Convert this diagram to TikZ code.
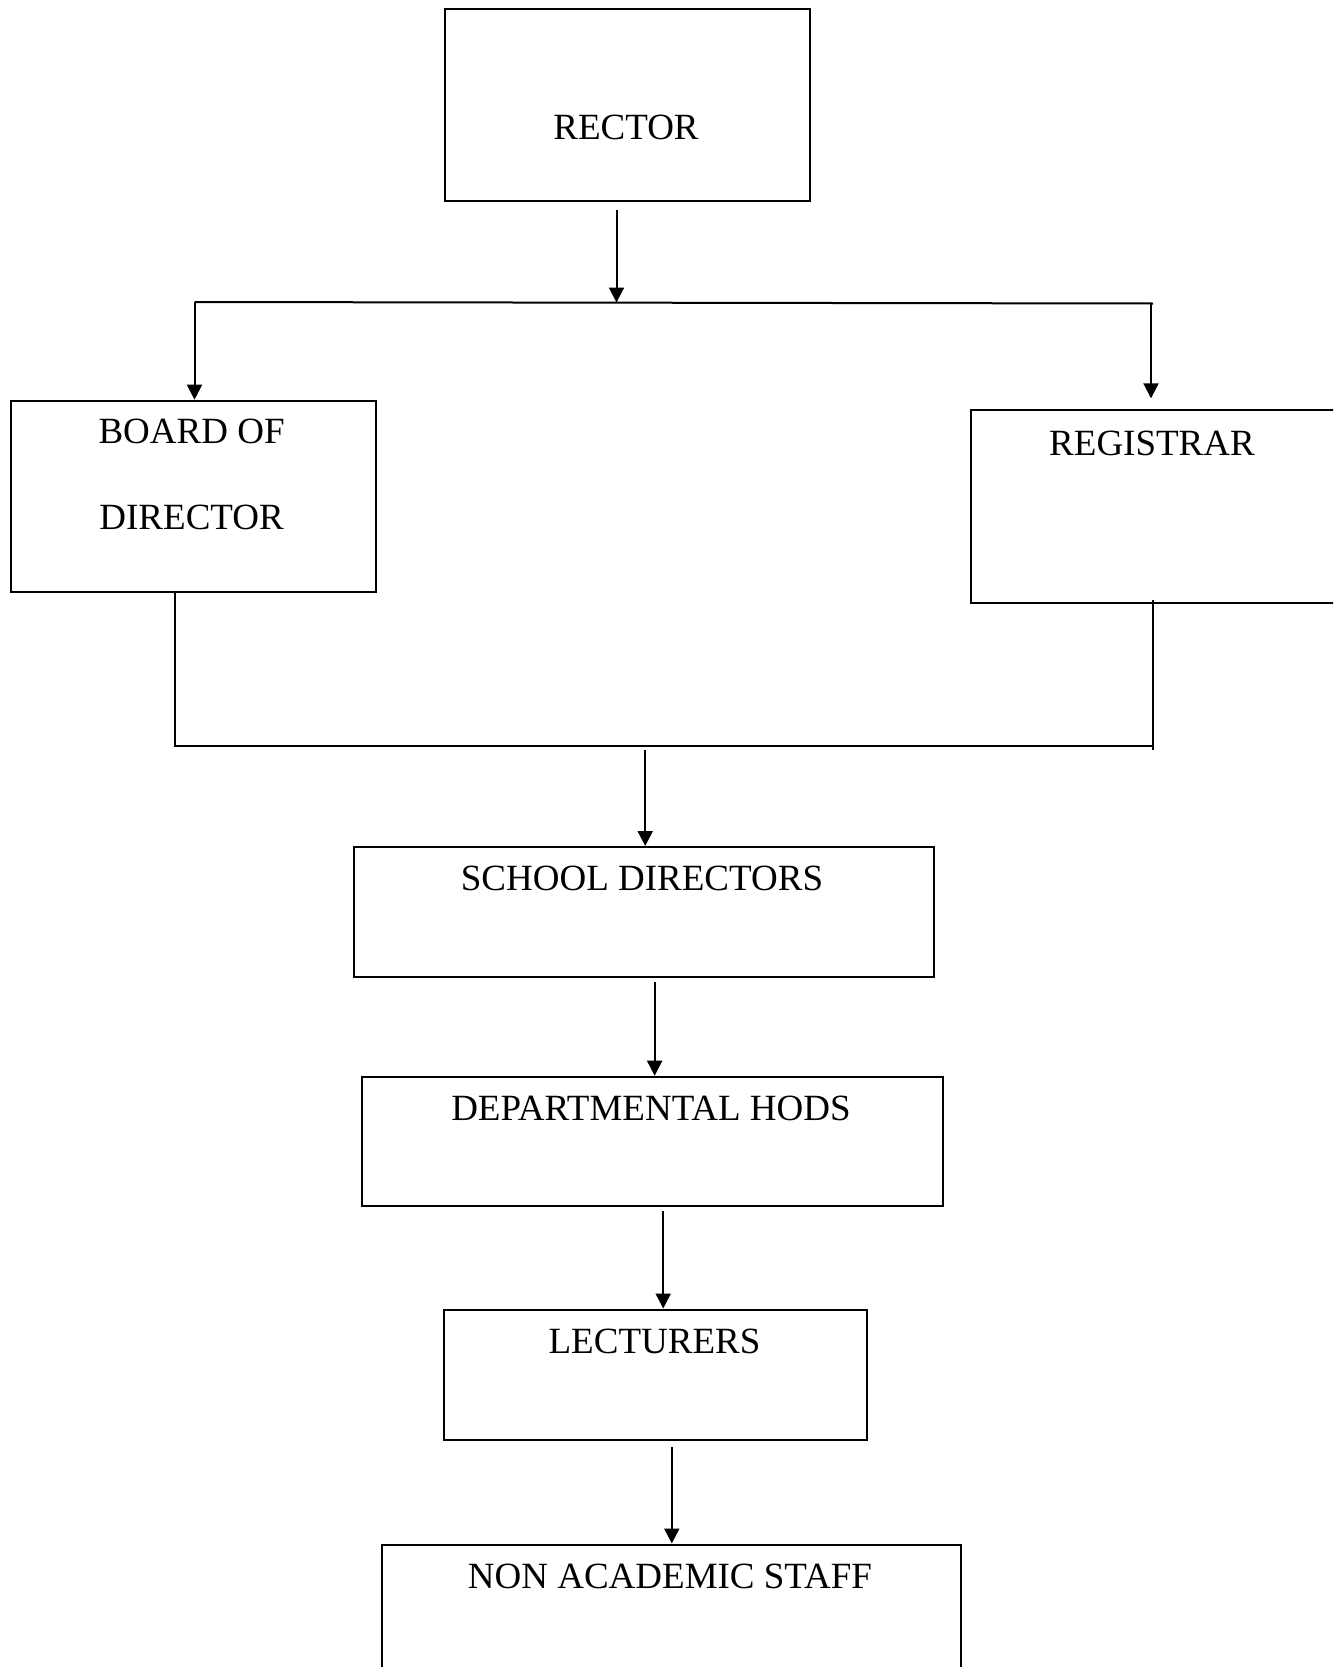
\documentclass[tikz,border=0pt]{standalone}
\usepackage{fontspec}
\setmainfont{Liberation Serif}
\usetikzlibrary{arrows.meta,calc}
\begin{document}
\begin{tikzpicture}[x=1pt,y=-1pt,
  box/.style={draw=black,line width=2pt,rectangle,anchor=north west,inner sep=0pt},
  lbl/.style={anchor=base,inner sep=0pt,font=\fontsize{37}{44}\selectfont},
  ln/.style={draw=black,line width=2pt},
  arr/.style={ln,-{Triangle[width=15pt,length=15pt]}}]
\path[use as bounding box,clip] (0,0) rectangle (1333,1667);
\fill[white] (0,0) rectangle (1333,1667);
% boxes
\node[box,minimum width=365pt,minimum height=191pt] (rector) at (444,8.5) {};
\node[box,minimum width=365.6pt,minimum height=191.3pt] (board) at (9.6,399.7) {};
\node[box,minimum width=420pt,minimum height=192.4pt] (reg) at (969.5,409.3) {};
\node[box,minimum width=580.3pt,minimum height=129.8pt] (school) at (353,846) {};
\node[box,minimum width=580.4pt,minimum height=129.7pt] (hods) at (361.4,1075.7) {};
\node[box,minimum width=423pt,minimum height=130.8pt] (lect) at (443.3,1308.5) {};
\node[box,minimum width=579.3pt,minimum height=220pt] (nonac) at (380.6,1543.5) {};
% labels
\node[lbl] (trector) at (626,139.3) {RECTOR};
\node[lbl] (tboard1) at (191.6,443) {BOARD OF};
\node[lbl] (tboard2) at (191.6,529.5) {DIRECTOR};
\node[lbl] (treg) at (1152,455) {REGISTRAR};
\node[lbl] (tschool) at (642,890.5) {SCHOOL DIRECTORS};
\node[lbl] (thods) at (651,1120.5) {DEPARTMENTAL HODS};
\node[lbl] (tlect) at (654.5,1353) {LECTURERS};
\node[lbl] (tnonac) at (670,1588.3) {NON ACADEMIC STAFF};
% junction coordinates
\coordinate (jm) at (616.5,302.5);
\coordinate (jl) at (194.5,302);
\coordinate (jr) at (1153,303.5);
\coordinate (bl) at (175.4,746.2);
\coordinate (br) at (1153.4,746.2);
\coordinate (bm) at (645.2,746.2);
% connectors
\draw[arr] ([yshift=-8pt]rector.south -| jm) -- (jm);
\draw[ln] (jl) -- (jr);
\draw[arr] (jl) -- (jl |- board.north);
\draw[arr] ([xshift=-2pt]jr) -- ([xshift=-2pt,yshift=11pt]jr |- reg.north);
\draw[ln] (board.south -| bl) -- (bl) -- (br);
\draw[ln] ([yshift=4pt]br |- reg.south) -- ([yshift=-4pt]br);
\draw[arr] ([yshift=-4pt]bm) -- (bm |- school.north);
\draw[arr] ([xshift=10.5pt,yshift=-4pt]school.south) -- ([xshift=10.5pt]school.south |- hods.north);
\draw[arr] ([xshift=10.6pt,yshift=-4pt]hods.south) -- ([xshift=10.6pt]hods.south |- lect.north);
\draw[arr] ([xshift=16pt,yshift=-6pt]lect.south) -- ([xshift=16pt]lect.south |- nonac.north);
\end{tikzpicture}
\end{document}
